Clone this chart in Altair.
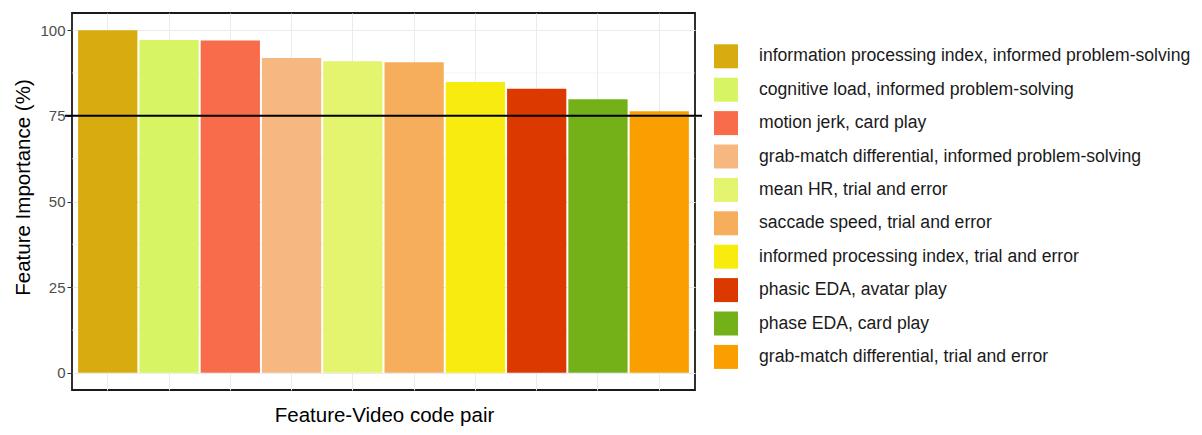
import altair as alt
import pandas as pd

categories = [
    "information processing index, informed problem-solving",
    "cognitive load, informed problem-solving",
    "motion jerk, card play",
    "grab-match differential, informed problem-solving",
    "mean HR, trial and error",
    "saccade speed, trial and error",
    "informed processing index, trial and error",
    "phasic EDA, avatar play",
    "phase EDA, card play",
    "grab-match differential, trial and error",
]
importance = [100.0, 97.1, 97.0, 91.9, 90.9, 90.6, 84.9, 82.9, 79.8, 76.3]
colors = ["#D8AB0E", "#D7F562", "#F86C4C", "#F6B880", "#E5F46E",
          "#F6AD5C", "#F8EB0E", "#DC3900", "#74B118", "#F99F00"]
y_ticks = [0, 25, 50, 75, 100]
y_minor = [12.5, 37.5, 62.5, 87.5]
threshold = [75]

FONT = "Liberation Sans"
W, H = 623, 377

df = pd.DataFrame({"pair": categories, "imp": importance})
minor_df = pd.DataFrame({"v": y_minor})
thr_df = pd.DataFrame({"v": threshold})

yscale = alt.Scale(domain=[-5, 105], nice=False, zero=False)

minor = alt.Chart(minor_df).mark_rule(color="#EBEBEB", strokeWidth=0.6).encode(
    y=alt.Y("v:Q", scale=yscale)
)

bars = alt.Chart(df).mark_bar().encode(
    x=alt.X(
        "pair:N",
        sort=categories,
        scale=alt.Scale(paddingInner=0.033, paddingOuter=0.1),
        axis=alt.Axis(
            title="Feature-Video code pair",
            labels=False, ticks=False, domain=False,
            grid=True, gridColor="#EBEBEB", gridWidth=1,
            titleFont=FONT, titleFontSize=20.5, titleFontWeight="normal",
            titleColor="#000000", titleX=312, titleY=31,
            titleBaseline="alphabetic", titleAlign="center",
        ),
    ),
    y=alt.Y(
        "imp:Q",
        scale=yscale,
        axis=alt.Axis(
            title="Feature Importance (%)",
            values=y_ticks, domain=False,
            grid=True, gridColor="#EBEBEB", gridWidth=1,
            tickColor="#333333", tickSize=5, tickWidth=1,
            labelFont=FONT, labelFontSize=15, labelColor="#4D4D4D",
            labelPadding=2,
            titleFont=FONT, titleFontSize=20.5, titleFontWeight="normal",
            titleColor="#000000", titleAngle=270, titleX=-49, titleY=174,
            titleBaseline="middle", titleAlign="center",
        ),
    ),
    color=alt.Color(
        "pair:N",
        sort=categories,
        scale=alt.Scale(domain=categories, range=colors),
        legend=alt.Legend(
            title=None, orient="none", legendX=642, legendY=31.3,
            symbolType="square", symbolSize=576, symbolStrokeWidth=0,
            symbolOpacity=1,
            labelFont=FONT, labelFontSize=17.6, labelColor="#1A1A1A",
            labelOffset=21, labelLimit=600, rowPadding=9.4, padding=0,
        ),
    ),
)

hline = alt.Chart(thr_df).mark_rule(color="#000000", strokeWidth=2).encode(
    y=alt.Y("v:Q", scale=yscale),
    x=alt.value(-7),
    x2=alt.value(W + 7),
)

chart = alt.layer(minor, bars, hline).properties(
    width=W, height=H,
    autosize=alt.AutoSizeParams(type="none"),
    padding={"left": 64, "top": 5, "right": 1186 - 64 - W, "bottom": 419 - 5 - H},
).configure(
    background="white",
    view=alt.ViewConfig(stroke="#1A1A1A", strokeWidth=1.8),
)

chart.save("out.html", embed_options={"renderer": "svg", "actions": False})
